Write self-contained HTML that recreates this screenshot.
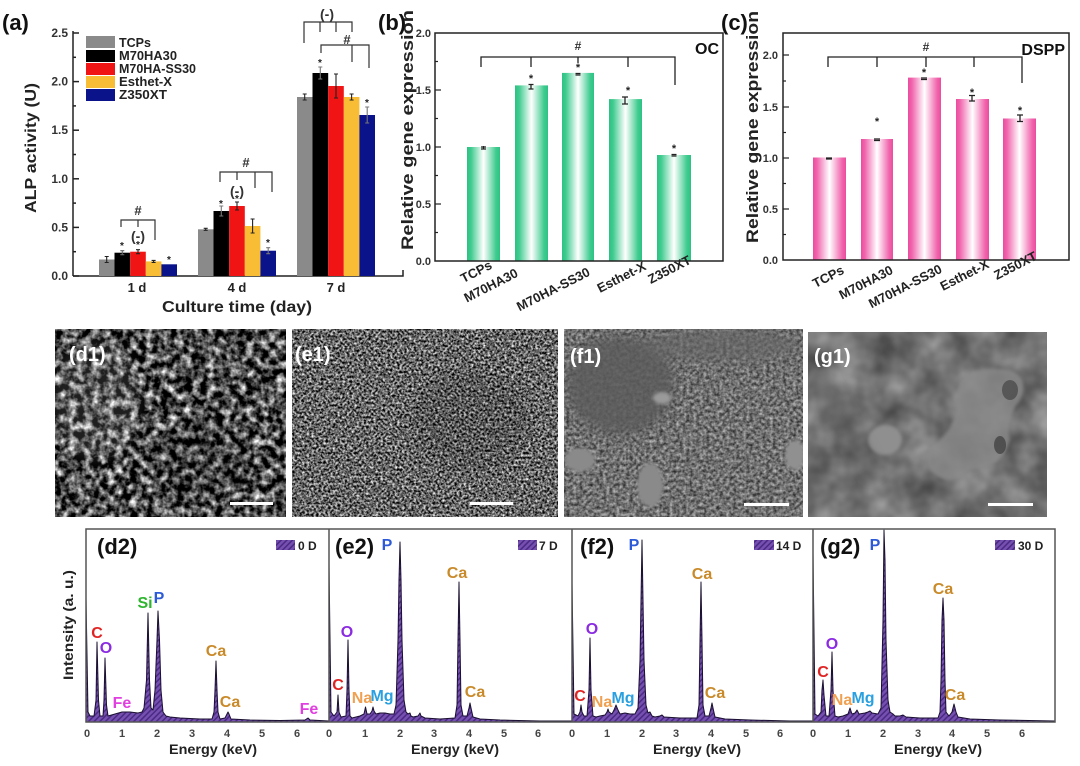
<!DOCTYPE html>
<html><head><meta charset="utf-8"><style>
html,body{margin:0;padding:0;background:#fff;}
svg{display:block;}
text{font-family:"Liberation Sans",Arial,sans-serif;font-weight:bold;}
</style></head><body>
<svg width="1080" height="766" viewBox="0 0 1080 766" xmlns="http://www.w3.org/2000/svg">
<defs>
<linearGradient id="gg" x1="0" x2="1" y1="0" y2="0">
<stop offset="0" stop-color="#2cc283"/><stop offset="0.12" stop-color="#3fcb8f"/><stop offset="0.5" stop-color="#ffffff"/><stop offset="0.88" stop-color="#3fcb8f"/><stop offset="1" stop-color="#2cc283"/></linearGradient>
<linearGradient id="pg" x1="0" x2="1" y1="0" y2="0">
<stop offset="0" stop-color="#ec4c9e"/><stop offset="0.12" stop-color="#f065ad"/><stop offset="0.5" stop-color="#ffffff"/><stop offset="0.88" stop-color="#f065ad"/><stop offset="1" stop-color="#ec4c9e"/></linearGradient>
<pattern id="hatch" patternUnits="userSpaceOnUse" width="4" height="4" patternTransform="rotate(45)">
<rect width="4" height="4" fill="#7650b0"/><rect width="1.5" height="4" fill="#4a2a82"/></pattern>
<clipPath id="cd1"><rect x="55" y="329" width="231" height="188"/></clipPath>
<clipPath id="ce1"><rect x="292" y="329" width="266" height="188"/></clipPath>
<clipPath id="cf1"><rect x="564" y="329" width="239" height="188"/></clipPath>
<clipPath id="cg1"><rect x="808" y="332" width="239" height="185"/></clipPath>
<filter id="fd1" filterUnits="userSpaceOnUse" x="55" y="329" width="231" height="188" color-interpolation-filters="sRGB">
<feTurbulence type="fractalNoise" baseFrequency="0.13" numOctaves="3" seed="3"/>
<feColorMatrix type="matrix" values="2.0 0 0 0 -0.7 2.0 0 0 0 -0.7 2.0 0 0 0 -0.7 0 0 0 0 1"/></filter>
<filter id="fe1" filterUnits="userSpaceOnUse" x="292" y="329" width="266" height="188" color-interpolation-filters="sRGB">
<feTurbulence type="fractalNoise" baseFrequency="0.42" numOctaves="2" seed="7"/>
<feColorMatrix type="matrix" values="1.7 0 0 0 -0.45 1.7 0 0 0 -0.45 1.7 0 0 0 -0.45 0 0 0 0 1"/></filter>
<filter id="ff1" filterUnits="userSpaceOnUse" x="564" y="329" width="239" height="188" color-interpolation-filters="sRGB">
<feTurbulence type="fractalNoise" baseFrequency="0.3" numOctaves="2" seed="11"/>
<feColorMatrix type="matrix" values="0.8 0 0 0 0.04 0.8 0 0 0 0.04 0.8 0 0 0 0.04 0 0 0 0 1"/></filter>
<filter id="fg1" filterUnits="userSpaceOnUse" x="808" y="332" width="239" height="185" color-interpolation-filters="sRGB">
<feTurbulence type="fractalNoise" baseFrequency="0.03" numOctaves="3" seed="5"/>
<feColorMatrix type="matrix" values="0.45 0 0 0 0.22 0.45 0 0 0 0.22 0.45 0 0 0 0.22 0 0 0 0 1"/></filter>
<filter id="blur4" x="-50%" y="-50%" width="200%" height="200%"><feGaussianBlur stdDeviation="6"/></filter>
<filter id="blur2"><feGaussianBlur stdDeviation="1.5"/></filter>
</defs>

<!-- ================= Panel (a) ================= -->
<text x="2" y="30" font-size="22" fill="#111">(a)</text>
<g stroke="#222" stroke-width="1.5" fill="none">
<line x1="73" y1="31" x2="73" y2="276"/>
<polyline points="73,276 403,276 403,270"/>
<line x1="73" y1="276" x2="79" y2="276"/><line x1="73" y1="227.4" x2="79" y2="227.4"/><line x1="73" y1="178.8" x2="79" y2="178.8"/><line x1="73" y1="130.2" x2="79" y2="130.2"/><line x1="73" y1="81.6" x2="79" y2="81.6"/><line x1="73" y1="33" x2="79" y2="33"/>
<line x1="73" y1="251.7" x2="76" y2="251.7"/><line x1="73" y1="203.1" x2="76" y2="203.1"/><line x1="73" y1="154.5" x2="76" y2="154.5"/><line x1="73" y1="105.9" x2="76" y2="105.9"/><line x1="73" y1="57.3" x2="76" y2="57.3"/>
</g>
<g font-size="12" fill="#333" text-anchor="end">
<text x="68" y="280">0.0</text><text x="68" y="231.4">0.5</text><text x="68" y="182.8">1.0</text><text x="68" y="134.2">1.5</text><text x="68" y="85.6">2.0</text><text x="68" y="37">2.5</text>
</g>
<text transform="translate(36,148) rotate(-90)" text-anchor="middle" font-size="16" fill="#222" textLength="130" lengthAdjust="spacingAndGlyphs">ALP activity (U)</text>
<g font-size="13" fill="#222" text-anchor="middle">
<text x="137" y="292">1 d</text><text x="237" y="292">4 d</text><text x="336" y="292">7 d</text>
</g>
<text x="237" y="312" font-size="16" fill="#222" text-anchor="middle" textLength="150" lengthAdjust="spacingAndGlyphs">Culture time (day)</text>
<g>
<rect x="99" y="259.5" width="15.5" height="16.5" fill="#8a8a8a"/>
<rect x="114.5" y="252.7" width="15.7" height="23.3" fill="#000"/>
<rect x="130.2" y="251.7" width="15.6" height="24.3" fill="#f01414"/>
<rect x="145.8" y="261.4" width="15.6" height="14.6" fill="#f8bd35"/>
<rect x="161.4" y="264.3" width="15.6" height="11.7" fill="#0a138a"/>
<rect x="198" y="229.3" width="15.5" height="46.7" fill="#8a8a8a"/>
<rect x="213.5" y="211" width="15.7" height="65" fill="#000"/>
<rect x="229.2" y="206" width="15.6" height="70" fill="#f01414"/>
<rect x="244.8" y="226" width="15.6" height="50" fill="#f8bd35"/>
<rect x="260.4" y="250.7" width="15.6" height="25.3" fill="#0a138a"/>
<rect x="297" y="97" width="15.5" height="179" fill="#8a8a8a"/>
<rect x="312.5" y="73" width="15.7" height="203" fill="#000"/>
<rect x="328.2" y="86" width="15.6" height="190" fill="#f01414"/>
<rect x="343.8" y="97" width="15.6" height="179" fill="#f8bd35"/>
<rect x="359.4" y="115" width="15.6" height="161" fill="#0a138a"/>
</g>
<g stroke="#222" stroke-width="1.1" fill="none">
<path d="M106.7,256.5V262.5M104.7,256.5h4M104.7,262.5h4"/>
<path d="M122.3,250.7V254.7M120.3,250.7h4M120.3,254.7h4" stroke="#666"/>
<path d="M138,249.7V253.7M136,249.7h4M136,253.7h4"/>
<path d="M153.6,260.4V262.4M151.6,260.4h4M151.6,262.4h4"/>
<path d="M205.7,228.3V230.3M203.7,228.3h4M203.7,230.3h4"/>
<path d="M221.3,206V216M219.3,206h4M219.3,216h4" stroke="#777"/>
<path d="M237,202V210M235,202h4M235,210h4"/>
<path d="M252.6,219V233M250.6,219h4M250.6,233h4"/>
<path d="M268.2,247.7V253.7M266.2,247.7h4M266.2,253.7h4" stroke="#777"/>
<path d="M304.7,94V100M302.7,94h4M302.7,100h4"/>
<path d="M320.3,67V79M318.3,67h4M318.3,79h4" stroke="#777"/>
<path d="M336,74V98M334,74h4M334,98h4"/>
<path d="M351.6,94V100M349.6,94h4M349.6,100h4"/>
<path d="M367.2,107V123M365.2,107h4M365.2,123h4" stroke="#777"/>
</g>
<g font-size="10" fill="#222" text-anchor="middle">
<text x="122" y="249">*</text><text x="138" y="248">*</text><text x="169" y="263">*</text>
<text x="221" y="207">*</text><text x="237" y="202">*</text><text x="268" y="246">*</text>
<text x="320" y="66">*</text><text x="367" y="106">*</text>
</g>
<g stroke="#333" stroke-width="1.2" fill="none">
<path d="M121,227V220H155V240M138,220V227"/>
<path d="M220,182V172H272V192M237,172V180M255,172V188"/>
<path d="M304,43V22H352V32M320,22V32M336,22V32"/>
<path d="M321,53V45H369V68M352,45V62"/>
</g>
<g font-size="13" fill="#333" text-anchor="middle">
<text x="138" y="215">#</text><text x="138" y="241" font-size="14">(-)</text>
<text x="246" y="167">#</text><text x="237" y="196" font-size="14">(-)</text>
<text x="327" y="19" font-size="14">(-)</text><text x="347" y="44">#</text>
</g>
<rect x="86" y="36" width="29" height="12" fill="#8a8a8a"/>
<rect x="86" y="50" width="29" height="12" fill="#000"/>
<rect x="86" y="63" width="29" height="12" fill="#f01414"/>
<rect x="86" y="76" width="29" height="12" fill="#f8bd35"/>
<rect x="86" y="89" width="29" height="12" fill="#0a138a"/>
<g font-size="13" fill="#222">
<text x="119" y="47" textLength="32" lengthAdjust="spacingAndGlyphs">TCPs</text>
<text x="119" y="60" textLength="58" lengthAdjust="spacingAndGlyphs">M70HA30</text>
<text x="119" y="73" textLength="77" lengthAdjust="spacingAndGlyphs">M70HA-SS30</text>
<text x="119" y="86" textLength="53" lengthAdjust="spacingAndGlyphs">Esthet-X</text>
<text x="119" y="99" textLength="48" lengthAdjust="spacingAndGlyphs">Z350XT</text>
</g>

<!-- ================= Panel (b) ================= -->
<text x="378" y="30" font-size="22" fill="#111">(b)</text>
<g>
<rect x="467" y="147" width="33" height="114" fill="url(#gg)"/>
<rect x="515" y="85.4" width="33" height="175.6" fill="url(#gg)"/>
<rect x="562" y="72.9" width="32" height="188.1" fill="url(#gg)"/>
<rect x="609" y="99.1" width="33" height="161.9" fill="url(#gg)"/>
<rect x="657" y="155" width="34" height="106" fill="url(#gg)"/>
</g>
<rect x="435" y="33" width="288" height="228" fill="none" stroke="#222" stroke-width="1.5"/>
<g stroke="#222" stroke-width="1.2">
<line x1="435" y1="204" x2="441" y2="204"/><line x1="435" y1="147" x2="441" y2="147"/><line x1="435" y1="90" x2="441" y2="90"/>
<line x1="435" y1="232.5" x2="438" y2="232.5"/><line x1="435" y1="175.5" x2="438" y2="175.5"/><line x1="435" y1="118.5" x2="438" y2="118.5"/><line x1="435" y1="61.5" x2="438" y2="61.5"/>
</g>
<g font-size="11" fill="#333" text-anchor="end">
<text x="431" y="265">0.0</text><text x="431" y="208">0.5</text><text x="431" y="151">1.0</text><text x="431" y="94">1.5</text><text x="431" y="37">2.0</text>
</g>
<text transform="translate(413,130) rotate(-90)" text-anchor="middle" font-size="17" fill="#222" textLength="240" lengthAdjust="spacingAndGlyphs">Relative gene expression</text>
<g stroke="#222" stroke-width="1.3" fill="none">
<path d="M481,67V57H675V85M531,57V67M578,57V63M628,57V67"/>
<path d="M481,147h5M483.5,146V149M481,149h5"/>
<path d="M528.5,84.5h5M531,84.5V89M528.5,89h5"/>
<path d="M575.5,73.5h5M575.5,75h5"/>
<path d="M622,97h6M625,97V104M622,104h6"/>
<path d="M671.5,154.5h5M671.5,156h5"/>
</g>
<g font-size="11" fill="#222" text-anchor="middle">
<text x="531" y="82">*</text><text x="578" y="71">*</text><text x="628" y="94">*</text><text x="674" y="152">*</text>
</g>
<text x="578" y="50" font-size="12" fill="#333" text-anchor="middle">#</text>
<text x="719" y="54" font-size="16" fill="#111" text-anchor="end">OC</text>
<g font-size="13" fill="#222" text-anchor="end">
<text transform="translate(493,268) rotate(-27)">TCPs</text>
<text transform="translate(519,276) rotate(-27)">M70HA30</text>
<text transform="translate(591,275) rotate(-27)">M70HA-SS30</text>
<text transform="translate(647,269) rotate(-27)">Esthet-X</text>
<text transform="translate(692,263) rotate(-27)">Z350XT</text>
</g>

<!-- ================= Panel (c) ================= -->
<text x="721" y="30" font-size="22" fill="#111">(c)</text>
<g>
<rect x="813" y="157.5" width="33" height="102.5" fill="url(#pg)"/>
<rect x="861" y="139" width="32" height="121" fill="url(#pg)"/>
<rect x="908" y="77.6" width="33" height="182.4" fill="url(#pg)"/>
<rect x="956" y="99" width="33" height="161" fill="url(#pg)"/>
<rect x="1003" y="118.5" width="33" height="141.5" fill="url(#pg)"/>
</g>
<rect x="783" y="33" width="286" height="227" fill="none" stroke="#222" stroke-width="1.5"/>
<g stroke="#222" stroke-width="1.2">
<line x1="783" y1="209" x2="789" y2="209"/><line x1="783" y1="158" x2="789" y2="158"/><line x1="783" y1="107" x2="789" y2="107"/><line x1="783" y1="55" x2="789" y2="55"/>
<line x1="783" y1="234.5" x2="786" y2="234.5"/><line x1="783" y1="183.5" x2="786" y2="183.5"/><line x1="783" y1="132.5" x2="786" y2="132.5"/><line x1="783" y1="81" x2="786" y2="81"/>
</g>
<g font-size="11" fill="#333" text-anchor="end">
<text x="778" y="264">0.0</text><text x="778" y="213">0.5</text><text x="778" y="162">1.0</text><text x="778" y="111">1.5</text><text x="778" y="59">2.0</text>
</g>
<text transform="translate(758,127) rotate(-90)" text-anchor="middle" font-size="17" fill="#222" textLength="232" lengthAdjust="spacingAndGlyphs">Relative gene expression</text>
<g stroke="#222" stroke-width="1.3" fill="none">
<path d="M828,67V57H1022V83M877,57V67M926,57V67M974,57V67"/>
<path d="M826,158h6M826,159h6"/>
<path d="M874,139h6M874,140.5h6"/>
<path d="M921,78h6M921,79.5h6"/>
<path d="M969,95.5h6M972,95.5V101M969,101h6"/>
<path d="M1017,115h6M1020,115V121.5M1017,121.5h6"/>
</g>
<g font-size="11" fill="#222" text-anchor="middle">
<text x="877" y="125">*</text><text x="924" y="76">*</text><text x="972" y="96">*</text><text x="1020" y="114">*</text>
</g>
<text x="926" y="51" font-size="12" fill="#333" text-anchor="middle">#</text>
<text x="1065" y="55" font-size="16" fill="#111" text-anchor="end">DSPP</text>
<g font-size="13" fill="#222" text-anchor="end">
<text transform="translate(845,273) rotate(-27)">TCPs</text>
<text transform="translate(894,273) rotate(-27)">M70HA30</text>
<text transform="translate(943,272) rotate(-27)">M70HA-SS30</text>
<text transform="translate(990,267) rotate(-27)">Esthet-X</text>
<text transform="translate(1038,259) rotate(-27)">Z350XT</text>
</g>

<!-- ================= SEM images ================= -->
<g clip-path="url(#cd1)">
<rect x="55" y="329" width="231" height="188" fill="#555"/>
<rect x="55" y="329" width="231" height="188" filter="url(#fd1)"/>
<ellipse cx="95" cy="400" rx="45" ry="60" fill="#fff" opacity="0.12" filter="url(#blur4)"/>
<ellipse cx="200" cy="460" rx="50" ry="40" fill="#000" opacity="0.15" filter="url(#blur4)"/>
</g>
<g clip-path="url(#ce1)">
<rect x="292" y="329" width="266" height="188" fill="#666"/>
<rect x="292" y="329" width="266" height="188" filter="url(#fe1)"/>
<ellipse cx="470" cy="420" rx="60" ry="50" fill="#000" opacity="0.12" filter="url(#blur4)"/>
</g>
<g clip-path="url(#cf1)">
<rect x="564" y="329" width="239" height="188" fill="#6a6a6a"/>
<rect x="564" y="329" width="239" height="188" filter="url(#ff1)"/>
<ellipse cx="620" cy="385" rx="55" ry="50" fill="#5c5c5c" opacity="0.85" filter="url(#blur4)"/>
<ellipse cx="720" cy="345" rx="80" ry="18" fill="#666" opacity="0.7" filter="url(#blur4)"/>
<ellipse cx="650" cy="485" rx="13" ry="22" fill="#8a8a8a" filter="url(#blur2)"/>
<ellipse cx="580" cy="460" rx="15" ry="12" fill="#8a8a8a" filter="url(#blur2)"/>
<ellipse cx="662" cy="398" rx="9" ry="6" fill="#9a9a9a" filter="url(#blur2)"/>
<ellipse cx="795" cy="455" rx="10" ry="15" fill="#909090" filter="url(#blur2)"/>
</g>
<g clip-path="url(#cg1)">
<rect x="808" y="332" width="239" height="185" fill="#707070"/>
<rect x="808" y="332" width="239" height="185" filter="url(#fg1)"/>
<path d="M960,380 Q980,365 1010,370 Q1030,378 1020,400 Q1005,420 1010,440 Q1000,470 970,470 Q950,490 930,470 Q920,455 940,440 Q960,420 955,400 Z" fill="#8a8a8a" opacity="0.8" filter="url(#blur2)"/>
<ellipse cx="885" cy="440" rx="17" ry="15" fill="#8f8f8f" filter="url(#blur2)"/>
<ellipse cx="1010" cy="390" rx="8" ry="10" fill="#444" opacity="0.7"/>
<ellipse cx="1000" cy="445" rx="6" ry="9" fill="#3a3a3a" opacity="0.7"/>
<path d="M820,360 L880,470 L870,480 L810,380 Z" fill="#5a5a5a" opacity="0.4" filter="url(#blur4)"/>
</g>

<g fill="#fff">
<rect x="230" y="502" width="43" height="3"/>
<rect x="470" y="502" width="43" height="3"/>
<rect x="744" y="503" width="45" height="3"/>
<rect x="988" y="503" width="45" height="3"/>
</g>
<g font-size="20" fill="#fff">
<text x="69" y="361">(d1)</text>
<text x="295" y="361">(e1)</text>
<text x="570" y="363">(f1)</text>
<text x="814" y="363">(g1)</text>
</g>

<!-- ================= EDS spectra ================= -->
<g fill="url(#hatch)" stroke="#1a1030" stroke-width="1" stroke-linejoin="round">
<path d="M86,722 L86,598 L88,712 L90,716 L94,716 L96,700 L97,642 L98.5,700 L100,716 L103,716 L104,700 L105,658 L106.5,705 L108,716 L115,714 L122,712 L130,712 L138,713 L142,712 L144,708 L146.5,680 L148,613 L149.5,680 L151,708 L153,710 L155,690 L157,640 L158,611 L159.5,640 L161,690 L163,712 L166,716 L170,717 L180,718 L200,719 L212,719 L214,712 L215,690 L216,661 L217,690 L218,712 L220,719 L225,718 L227,714 L228,712 L229,714 L231,719 L250,720 L280,720.5 L305,720 L308,718 L310,720 L329,721 L329,722 Z"/>
<path d="M329,722 L329,565 L331,712 L334,716 L337,712 L338,695 L339,712 L341,717 L346,716 L347,690 L348,640 L349,690 L350,716 L352,718 L356,717 L360,716 L364,714 L365.5,707 L367,714 L370,714 L372,711 L373,707 L374,711 L376,714 L380,713 L385,713 L390,714 L394,714 L396,705 L398,640 L399,580 L400,542 L401,580 L402,640 L404,700 L406,712 L408,714 L410,713 L411,716 L413,717 L418,716 L420,713 L421,716 L425,718 L440,719 L455,718 L457,705 L458,640 L459,582 L460,640 L461,705 L463,716 L467,716 L469,708 L470,703 L471,708 L473,717 L480,719 L500,720 L540,721 L572,721 L572,722 Z"/>
<path d="M572,722 L572,583 L574,714 L578,716 L580,712 L581,705 L582,712 L584,716 L587,716 L589,690 L590,638 L591,690 L593,716 L596,717 L600,716 L605,715 L607,712 L608,709 L609,712 L612,714 L614,710 L616,705 L618,710 L620,714 L625,713 L630,714 L635,714 L638,708 L640,660 L641,600 L642,540 L643,600 L644,660 L646,705 L648,713 L650,712 L652,716 L655,717 L660,716 L662,715 L664,717 L680,718 L697,718 L699,705 L700,640 L701,582 L702,640 L703,705 L705,716 L709,716 L711,708 L712,703 L713,708 L715,717 L725,719 L750,720 L790,721 L813,721 L813,722 Z"/>
<path d="M813,722 L813,553 L815,714 L818,716 L821,712 L822,690 L823,680 L824,695 L826,716 L829,716 L831,690 L832,652 L833,690 L835,716 L838,717 L843,716 L848,714 L850,708 L852,714 L855,713 L857,710 L859,714 L865,713 L868,712 L870,711 L872,713 L878,714 L881,708 L883,620 L884,530 L885,560 L886,640 L888,700 L890,712 L893,714 L895,716 L900,716 L903,715 L906,717 L920,718 L938,718 L940,712 L941,680 L942,620 L943,598 L944,620 L945,680 L946,712 L949,716 L952,712 L954,704 L956,712 L958,717 L970,719 L1000,720 L1055,721 L1055,722 Z"/>
</g>
<g stroke="#555" stroke-width="1.5" fill="none">
<rect x="86" y="529" width="969" height="193"/>
<line x1="329" y1="529" x2="329" y2="722"/>
<line x1="572" y1="529" x2="572" y2="722"/>
<line x1="813" y1="529" x2="813" y2="722"/>
</g>
<g fill="url(#hatch)">
<rect x="276" y="540" width="19" height="10"/><rect x="518" y="540" width="19" height="10"/>
<rect x="754" y="540" width="20" height="10"/><rect x="995" y="540" width="20" height="10"/>
</g>
<g font-size="12" fill="#222">
<text x="298" y="550">0 D</text><text x="539" y="550">7 D</text><text x="776" y="550">14 D</text><text x="1018" y="550">30 D</text>
</g>
<g font-size="22" fill="#111">
<text x="97" y="554">(d2)</text><text x="335" y="554">(e2)</text><text x="580" y="554">(f2)</text><text x="820" y="554">(g2)</text>
</g>
<g font-size="16" text-anchor="middle">
<text x="97" y="638" fill="#e02424">C</text>
<text x="106" y="653" fill="#8a2be2">O</text>
<text x="145" y="608" fill="#2db52d">Si</text>
<text x="159" y="603" fill="#2d5bd8">P</text>
<text x="216" y="656" fill="#c98a2a">Ca</text>
<text x="230" y="707" fill="#c98a2a">Ca</text>
<text x="122" y="708" fill="#e040e0">Fe</text>
<text x="309" y="714" fill="#e040e0">Fe</text>

<text x="387" y="550" fill="#2d5bd8">P</text>
<text x="457" y="578" fill="#c98a2a">Ca</text>
<text x="347" y="637" fill="#8a2be2">O</text>
<text x="338" y="690" fill="#e02424">C</text>
<text x="362" y="703" fill="#f0a050">Na</text>
<text x="382" y="701" fill="#2aa0e0">Mg</text>
<text x="475" y="697" fill="#c98a2a">Ca</text>

<text x="634" y="550" fill="#2d5bd8">P</text>
<text x="702" y="579" fill="#c98a2a">Ca</text>
<text x="592" y="634" fill="#8a2be2">O</text>
<text x="580" y="701" fill="#e02424">C</text>
<text x="602" y="707" fill="#f0a050">Na</text>
<text x="623" y="703" fill="#2aa0e0">Mg</text>
<text x="715" y="698" fill="#c98a2a">Ca</text>

<text x="875" y="550" fill="#2d5bd8">P</text>
<text x="943" y="594" fill="#c98a2a">Ca</text>
<text x="832" y="649" fill="#8a2be2">O</text>
<text x="823" y="677" fill="#e02424">C</text>
<text x="842" y="705" fill="#f0a050">Na</text>
<text x="863" y="703" fill="#2aa0e0">Mg</text>
<text x="955" y="700" fill="#c98a2a">Ca</text>
</g>
<g font-size="11" fill="#444" text-anchor="middle">
<text x="87" y="737">0</text><text x="122" y="737">1</text><text x="157" y="737">2</text><text x="192" y="737">3</text><text x="227" y="737">4</text><text x="262" y="737">5</text><text x="297" y="737">6</text>
<text x="329" y="737">0</text><text x="365" y="737">1</text><text x="400" y="737">2</text><text x="434" y="737">3</text><text x="469" y="737">4</text><text x="504" y="737">5</text><text x="538" y="737">6</text>
<text x="572" y="737">0</text><text x="607" y="737">1</text><text x="642" y="737">2</text><text x="676" y="737">3</text><text x="711" y="737">4</text><text x="746" y="737">5</text><text x="780" y="737">6</text>
<text x="813" y="737">0</text><text x="848" y="737">1</text><text x="883" y="737">2</text><text x="918" y="737">3</text><text x="952" y="737">4</text><text x="987" y="737">5</text><text x="1022" y="737">6</text>
</g>
<g font-size="14" fill="#222" text-anchor="middle">
<text x="213" y="754" textLength="88" lengthAdjust="spacingAndGlyphs">Energy (keV)</text>
<text x="455" y="754" textLength="88" lengthAdjust="spacingAndGlyphs">Energy (keV)</text>
<text x="697" y="754" textLength="88" lengthAdjust="spacingAndGlyphs">Energy (keV)</text>
<text x="938" y="754" textLength="88" lengthAdjust="spacingAndGlyphs">Energy (keV)</text>
</g>
<text transform="translate(73,625) rotate(-90)" text-anchor="middle" font-size="14" fill="#222" textLength="110" lengthAdjust="spacingAndGlyphs">Intensity (a. u.)</text>
</svg>
</body></html>
